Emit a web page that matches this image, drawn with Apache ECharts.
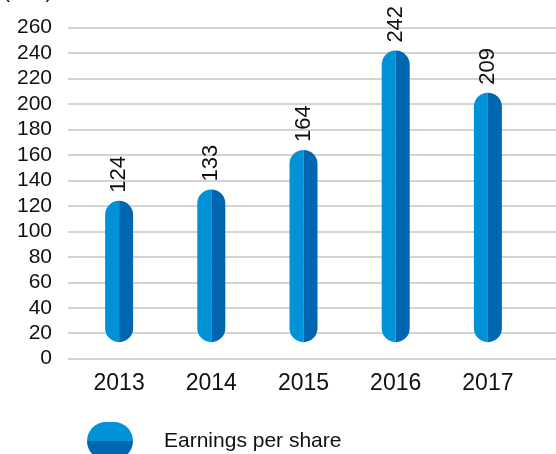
<!DOCTYPE html>
<html>
<head>
<meta charset="utf-8">
<script src="https://cdn.jsdelivr.net/npm/echarts@6/dist/echarts.min.js"></script>
<style>
  html, body { margin: 0; padding: 0; background: #fff; }
  #chart { width: 556px; height: 454px; }
</style>
</head>
<body>
<div id="chart"></div>
<script>
// values
var years = ['2013', '2014', '2015', '2016', '2017'];
var eps = [124, 133, 164, 242, 209];
var yTicks = [0, 20, 40, 60, 80, 100, 120, 140, 160, 180, 200, 220, 240, 260];
var pillBase = 13; // pills start a little above zero
var seriesName = 'Earnings per share';

var LIGHT = '#0091d7';
var DARK = '#0066b1';
var FONT = '"Liberation Sans", Arial, sans-serif';

var myChart = echarts.init(document.getElementById('chart'));

function renderPill(params, api) {
    var i = api.value(0);
    var top = api.coord([i, api.value(1)]);
    var bottom = api.coord([i, pillBase]);
    var w = 28, half = w / 2;
    var x = top[0] - half;
    var h = bottom[1] - top[1];
    return {
        type: 'group',
        children: [
            {
                type: 'rect',
                shape: { x: x, y: top[1], width: half, height: h, r: [half, 0, 0, half] },
                style: { fill: LIGHT }
            },
            {
                type: 'rect',
                shape: { x: x + half, y: top[1], width: half, height: h, r: [0, half, half, 0] },
                style: { fill: DARK }
            },
            {
                type: 'text',
                x: top[0],
                y: top[1] - 8,
                rotation: Math.PI / 2,
                style: {
                    text: String(api.value(1)),
                    fill: '#111',
                    font: '22px ' + FONT,
                    align: 'left',
                    verticalAlign: 'middle'
                }
            }
        ]
    };
}

myChart.setOption({
    animation: false,
    textStyle: { fontFamily: FONT },
    grid: [
        { left: 68, right: 0, top: 27.7, height: 331 },
        { left: 73, right: 22, top: 27.7, height: 331 }
    ],
    xAxis: [
        { gridIndex: 0, type: 'category', data: years, show: false },
        {
            gridIndex: 1,
            type: 'category',
            data: years,
            axisLine: { show: false },
            axisTick: { show: false },
            axisLabel: { color: '#111', fontSize: 23, margin: 13, fontFamily: FONT }
        }
    ],
    yAxis: [
        {
            gridIndex: 0,
            type: 'value',
            min: yTicks[0],
            max: yTicks[yTicks.length - 1],
            interval: 20,
            axisLine: { show: false },
            axisTick: { show: false },
            axisLabel: { color: '#111', fontSize: 21, margin: 16, fontFamily: FONT },
            splitLine: { lineStyle: { color: '#c6c6c6', width: 1.5 } }
        },
        {
            gridIndex: 1,
            type: 'value',
            min: yTicks[0],
            max: yTicks[yTicks.length - 1],
            interval: 20,
            show: false,
            splitLine: { show: false }
        }
    ],
    legend: {
        left: 87,
        top: 422,
        padding: 0,
        itemWidth: 46,
        itemHeight: 38,
        icon: 'path://M19,0 H27 A19,19 0 0 1 27,38 H19 A19,19 0 0 1 19,0 Z',
        textStyle: { color: '#111', fontSize: 21, fontFamily: FONT, padding: [0, 0, 0, 26] },
        data: [{
            name: seriesName,
            itemStyle: {
                color: new echarts.graphic.LinearGradient(0, 0, 0, 1, [
                    { offset: 0, color: LIGHT },
                    { offset: 0.5, color: LIGHT },
                    { offset: 0.5, color: DARK },
                    { offset: 1, color: DARK }
                ])
            }
        }]
    },
    graphic: [{
        type: 'text',
        left: 3,
        top: -18,
        style: { text: '(Yen)', fill: '#111', font: '21px ' + FONT }
    }],
    series: [{
        name: seriesName,
        type: 'custom',
        xAxisIndex: 1,
        yAxisIndex: 1,
        renderItem: renderPill,
        itemStyle: { color: LIGHT },
        encode: { x: 0, y: 1 },
        data: eps.map(function (v, i) { return [i, v]; })
    }]
});
</script>
</body>
</html>
